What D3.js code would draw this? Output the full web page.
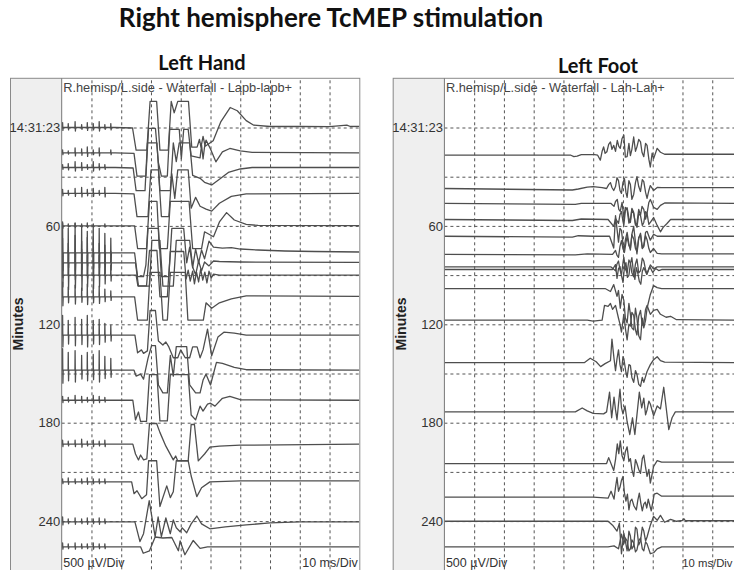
<!DOCTYPE html>
<html>
<head>
<meta charset="utf-8">
<script src="https://cdn.jsdelivr.net/npm/d3@7"></script>
<style>
  html, body { margin: 0; padding: 0; background: #fff; }
  svg { display: block; }
</style>
</head>
<body>
<svg id="chart" width="734" height="570"></svg>
<script>
// ---- data -------------------------------------------------------------
// stimulus train pulse times (ms) shared by every hand sweep
const pulseTimes = [0.3, 2.2, 4.5, 6.7, 8.6, 10.6, 12.6, 14.5, 16.5];

// minute axis
const minuteTicks = [0, 60, 120, 180, 240];
const minuteLabels = ["14:31:23", "60", "120", "180", "240"];
const gridMinutes = [0, 30, 60, 90, 120, 150, 180, 210, 240];
const gridMs = [10, 20, 30, 40, 50, 60, 70, 80, 90];

// Left hand (APB) sweeps: acquisition time in minutes
const handTimes = [0, 15.5, 24.4, 40.2, 60, 76.5, 82.6, 90, 103.3, 126.6, 148, 166.3, 193.1, 216.1, 240.5, 255.7];

// stimulus artefact size (µV) at each pulse, per sweep
const handPulses = [
  [50, 40, 60, 30, 50, 40, 60, 30, 40],
  [30, 20, 50, 40, 60, 30, 50, 0, 30],
  [30, 40, 60, 50, 30, 60, 40, 30, 0],
  [40, 30, 50, 60, 40, 50, 30, 60, 0],
  [40, 20, 30, 20, 30, 20, 0, 20, 0],
  [300, 250, 300, 280, 220, 260, 250, 200, 150],
  [250, 200, 280, 220, 260, 240, 200, 180, 120],
  [200, 250, 220, 260, 200, 230, 200, 150, 100],
  [150, 100, 120, 90, 130, 100, 110, 80, 60],
  [200, 150, 180, 160, 200, 150, 160, 120, 100],
  [220, 180, 200, 150, 180, 160, 200, 140, 120],
  [40, 30, 50, 40, 30, 50, 40, 30, 0],
  [40, 30, 40, 50, 30, 40, 30, 40, 0],
  [30, 40, 30, 30, 40, 30, 30, 30, 0],
  [50, 30, 40, 30, 40, 30, 40, 30, 0],
  [40, 30, 40, 30, 30, 40, 30, 30, 0]
];

// hand responses: [ms, µV]
const handWaves = [
  [[0,0],[18,0],[23.8,-5],[25,-230],[28.6,-230],[29.7,265],[31.9,265],[33,-230],[35.8,-230],[36.8,265],[37.8,150],[39,265],[42.6,265],[43.7,-200],[45.5,-200],[46.3,-120],[46.8,-200],[47.5,-90],[48.2,-190],[50.9,-135],[53.5,60],[56.6,203],[59,170],[62,70],[64.4,25],[70,10],[80,10],[90,8],[95.8,25],[97,10],[100,12]],
  [[0,0],[18,0],[24.3,-5],[25.3,-235],[28.3,-235],[29.2,250],[31.5,250],[32.5,-100],[33.5,-235],[35.5,-235],[36.3,240],[39.5,240],[40.2,-60],[41,240],[42.5,240],[43.5,-30],[46.5,-50],[47,80],[47.5,-60],[48,60],[48.5,130],[50,40],[51.8,-90],[54,10],[56.5,45],[60,20],[64,5],[100,0]],
  [[0,0],[18,0],[24,-5],[25,-235],[28,-235],[28.8,250],[32,250],[33,-235],[36.5,-235],[37.5,250],[38.5,60],[39.5,250],[43,250],[44,-80],[46.5,-110],[48,-150],[50.4,-177],[53,-120],[56,-50],[60,-15],[64,0],[100,0]],
  [[0,0],[18,0],[24.3,-5],[25.3,-235],[29,-235],[30,240],[32.5,240],[33.5,-235],[36,-235],[37,200],[38,-50],[39,240],[42.5,240],[43.5,-150],[45,-40],[46.5,-130],[48.5,-160],[50.4,-180],[53,-100],[57,-30],[62,-5],[100,0]],
  [[0,0],[18,0],[24.5,0],[25.5,-230],[28.5,-230],[29.5,250],[32,250],[32.8,-230],[35.5,-230],[36.5,250],[42.8,250],[44,-230],[47,-230],[48,-60],[51,-110],[53,40],[55.4,135],[58,60],[62,15],[66,5],[100,3]],
  [[0,0],[18,0],[24.5,0],[25.5,-240],[27.5,-240],[28.3,-120],[29,250],[32.5,250],[33.5,-240],[36,-240],[37,250],[41,250],[42,-100],[43,60],[44,-150],[45,40],[46,-100],[47,30],[48,-60],[49.5,120],[51,60],[54,50],[57,55],[60,40],[66,30],[75,20],[85,15],[100,10]],
  [[0,0],[18,0],[24.8,0],[25.8,-235],[29.5,-235],[30.3,230],[33,230],[34,-235],[37.5,-235],[38.5,230],[43,230],[44,-40],[45,-120],[46,20],[47,-80],[48,10],[49.5,-30],[51,20],[53,15],[60,10],[100,5]],
  [[0,0],[18,0],[25,0],[25.6,-110],[28.5,-110],[29.5,250],[32,250],[33,-220],[35.5,-220],[36.5,240],[41,240],[41.8,-40],[42.5,50],[43.2,-60],[44,40],[44.6,-90],[45.3,30],[46,-70],[46.7,60],[47.4,-50],[48.1,30],[48.8,-80],[49.5,40],[50.2,-30],[51,10],[53,0],[100,0]],
  [[0,0],[18,0],[24.5,0],[25.5,-235],[28.8,-235],[29.7,250],[33,250],[34,-235],[35.5,-235],[36.5,250],[41.5,250],[42.4,-235],[47.6,-235],[48.5,-60],[50.4,-115],[53,-60],[57,-20],[62,10],[100,5]],
  [[0,0],[18,0],[24.6,0],[25.5,-180],[26.8,-150],[27.5,-185],[28.8,-160],[29.7,250],[31.5,250],[32.5,-60],[34,-100],[35,-70],[36,-120],[37.5,-230],[39,-230],[40,-150],[41.5,-230],[43,-230],[44,-120],[45.5,-120],[46.5,-230],[47.5,-150],[49,60],[50.4,-210],[52.5,-20],[54.5,30],[58,20],[62,0],[100,0]],
  [[0,0],[18,0],[24.3,0],[25,-60],[26.5,-40],[27.5,-90],[29,120],[30.2,250],[31.5,250],[32.5,-150],[34,-230],[35.5,-230],[36.5,150],[37.5,-60],[38.5,240],[42,240],[43,-150],[45,-230],[46.5,-230],[47.5,-100],[48.5,-40],[50,-150],[52,80],[54,70],[58,30],[62,5],[100,0]],
  [[0,0],[18,0],[23.9,0],[24.8,-200],[25.8,-120],[26.5,-215],[28.5,-215],[29.5,260],[32,260],[33,-210],[35.5,-210],[36.5,260],[42.5,260],[43.5,-150],[45,-200],[46.5,-60],[47.5,-110],[49,-40],[50,-30],[51.5,-60],[54,20],[56.5,40],[60,5],[100,0]],
  [[0,0],[18,0],[23.9,0],[24.8,-100],[25.8,-160],[26.5,-110],[27.5,-160],[28.6,-150],[29.5,210],[31.9,210],[33,120],[35,-20],[37.5,-160],[38.3,-120],[39,-170],[42.5,-170],[43.5,200],[44.6,200],[45.9,-170],[48,-100],[49.8,-30],[53,-20],[60,-10],[100,0]],
  [[0,0],[18,0],[23.5,0],[24.3,-120],[25.3,-90],[26.9,-170],[28.5,-130],[29.2,215],[31.9,215],[33,-250],[35.3,-40],[36.5,-160],[37.5,-100],[38.5,215],[42.5,215],[43.5,60],[45.4,-150],[47,-60],[49.8,0],[55,5],[60,10],[100,10]],
  [[0,0],[18,0],[24.6,0],[26.3,-200],[27.5,-120],[29.4,215],[31.4,-150],[32.4,50],[33.5,-150],[35,40],[36.5,-120],[37.5,20],[38.5,-60],[39.8,-100],[40.5,-60],[42,-110],[43.5,-20],[45.4,60],[47,-20],[49.8,-70],[55,-50],[62,-30],[70,-10],[80,0],[100,0]],
  [[0,0],[18,0],[26.5,0],[27.4,-65],[29.5,-40],[31.4,100],[34,90],[37,95],[39.2,-40],[39.8,60],[41.4,-80],[44.2,65],[46.5,-15],[49,0],[100,0]]
];

// Left foot (AH) sweeps: acquisition time in minutes
const footTimes = [16.9, 37.2, 46.3, 56.1, 66.3, 77.4, 85, 86.6, 98.2, 117.5, 143.4, 173.4, 204.9, 225.4, 240.1, 255.7];

// foot responses: [ms, µV]
const footWaves = [
  [[0,0],[42.5,0],[43.5,-15],[44.6,-10],[46,5],[50.5,5],[51.5,0],[52.4,-50],[53,40],[53.5,85],[54,20],[54.6,35],[55.2,110],[55.8,135],[56.3,60],[56.9,100],[57.5,40],[58.1,150],[58.6,90],[59.1,70],[59.7,170],[60.3,205],[60.8,-20],[61.4,-15],[62,120],[62.5,-5],[63,60],[63.6,185],[64.2,40],[64.7,85],[65.3,160],[65.9,135],[66.4,30],[67,-15],[67.6,120],[68.1,100],[68.7,-40],[69.2,-120],[69.8,20],[70.3,-35],[71.5,70],[72.6,30],[74,10],[100,10]],
  [[0,0],[43,-15],[45,-5],[48,15],[50,20],[53,10],[54.5,0],[55.2,40],[55.8,60],[56.3,10],[56.9,-20],[57.5,20],[58,110],[58.5,80],[59,-20],[59.5,-50],[60,60],[60.5,100],[61,-40],[61.4,-90],[62,80],[62.5,40],[63,-110],[63.6,-60],[64.2,60],[64.7,120],[65.3,20],[65.9,-30],[66.5,90],[67,70],[67.6,-40],[68.1,-100],[68.7,-20],[69.2,30],[70.3,-20],[71.5,10],[73,8],[100,8]],
  [[0,0],[44,-10],[46,0],[56,0],[57,-30],[57.5,20],[58.1,40],[58.6,-60],[59.1,-80],[59.7,10],[60.3,-150],[60.8,-40],[61.4,-60],[62,-200],[62.5,-170],[63,-50],[63.6,-90],[64.2,-220],[64.7,-200],[65.3,-60],[65.9,-120],[66.4,-30],[67,-60],[67.6,-160],[68.1,-100],[68.7,10],[69.2,40],[70.3,-40],[71.5,-60],[72.6,-20],[74,5],[100,0]],
  [[0,0],[43,-10],[46,5],[55,0],[56.9,-70],[57.5,10],[58.5,-40],[59,50],[59.5,80],[60,-20],[60.3,-60],[60.8,90],[61.4,120],[62,10],[62.5,-30],[63,100],[63.6,60],[64.2,-40],[64.7,-80],[65.3,60],[65.9,40],[66.5,-60],[67,-30],[67.6,80],[68.1,60],[68.7,-50],[69.2,-30],[70.3,20],[71.5,-60],[72.6,-125],[73.5,-80],[74.8,-40],[76,0],[100,0]],
  [[0,0],[43,-10],[45,5],[50,0],[55.5,0],[56.9,-120],[57.5,210],[58.5,-60],[59,80],[59.5,60],[60.3,-160],[60.8,-40],[61.4,40],[62,-80],[62.5,-140],[63,20],[63.6,100],[64.2,-60],[64.7,-180],[65.3,-20],[65.9,30],[66.5,-120],[67,-90],[67.6,40],[68.1,50],[69.2,-40],[70.3,20],[71.5,0],[100,0]],
  [[0,0],[44,-5],[48,5],[56.5,0],[57.5,40],[58,-10],[58.5,-30],[59,80],[59.5,140],[60,60],[60.5,20],[61,120],[61.4,180],[62,90],[62.5,60],[63,200],[63.6,160],[64.2,60],[64.7,30],[65.3,170],[65.9,200],[66.5,60],[67,80],[67.6,190],[68.1,150],[68.7,60],[69.2,20],[70.3,60],[71.5,10],[73,5],[100,5]],
  [[0,0],[56,0],[57.5,-40],[58,30],[58.5,60],[59,-30],[59.5,-80],[60,40],[60.3,100],[60.8,-20],[61.4,-60],[62,70],[62.5,40],[63,-60],[63.6,-100],[64.2,30],[64.7,80],[65.3,-60],[65.9,-40],[66.5,90],[67,60],[67.6,-30],[68.1,-70],[69.2,20],[70.3,-20],[71.5,0],[100,0]],
  [[0,0],[56.5,0],[57.5,50],[58,-90],[58.5,10],[59,30],[59.5,-60],[60,-130],[60.5,20],[61,70],[61.5,-80],[62,-60],[62.5,60],[63,120],[63.5,-20],[64,-100],[64.5,20],[65,-40],[65.5,-120],[66,-150],[66.5,-20],[67,20],[68,-50],[69,30],[70,-30],[71,10],[72,-10],[73,0],[100,0]],
  [[0,0],[54,0],[55.8,-30],[56.9,40],[58,-80],[58.5,-20],[59.1,-200],[59.7,-60],[60.3,-120],[60.8,-300],[61.4,-350],[62,-150],[62.5,-260],[63,-400],[63.6,-420],[64.2,-200],[64.7,-300],[65.3,-480],[65.9,-520],[66.5,-300],[67,-400],[67.6,-320],[68.1,-200],[69.2,-60],[70.3,30],[71.5,10],[73,0],[100,0]],
  [[0,0],[48,0],[50,-10],[53,0],[53.8,150],[55,140],[55.8,170],[56.5,110],[57.5,150],[58.5,20],[59,-40],[59.5,-120],[60.3,60],[60.8,-80],[61.4,-200],[62,-40],[62.5,-60],[63,80],[63.6,50],[64.2,-100],[64.7,-150],[65.3,40],[65.9,100],[66.5,-50],[67,-30],[67.6,110],[68.1,150],[69.2,60],[70.3,100],[71.5,110],[72.6,60],[74.5,30],[76,40],[78,5],[100,0]],
  [[0,0],[47,0],[49,45],[51,10],[52.5,-40],[54,-10],[55.8,20],[56.3,240],[57,40],[57.5,-80],[58,40],[58.5,130],[59,-20],[59.5,-90],[60,60],[60.3,40],[61,-100],[61.4,-150],[62,-20],[62.5,-30],[63,-150],[63.6,-200],[64.2,-80],[64.7,-120],[65.3,-220],[65.9,-240],[66.5,-150],[67,-200],[68.1,-90],[69.2,-20],[70.3,30],[71.5,60],[72.6,20],[74,5],[100,0]],
  [[0,0],[44,0],[46.3,40],[48,10],[50,-15],[53.5,-20],[54.5,0],[55.5,200],[56.2,-60],[57,150],[57.5,20],[58,-80],[58.5,80],[59,230],[59.5,40],[60,-20],[60.7,60],[61.4,-100],[62.3,-230],[63.2,-60],[64,-230],[64.7,-30],[65.5,200],[66.3,40],[67,140],[67.6,-30],[68.1,20],[68.7,110],[69.2,80],[70.3,-40],[71.5,60],[72.6,30],[73.7,250],[75.4,-180],[76.5,-60],[77.6,0],[100,0]],
  [[0,0],[50,0],[54.5,0],[55.2,60],[56.9,-70],[57.5,40],[58.1,200],[58.6,100],[59.1,230],[59.7,80],[60.3,30],[60.8,120],[61.4,170],[62,20],[62.5,50],[63,-60],[63.6,-130],[64.2,40],[64.7,0],[65.3,-60],[65.9,-100],[66.5,50],[67,85],[67.6,-40],[68.1,-130],[68.7,-60],[69.2,-200],[70.3,-30],[71.5,30],[73,15],[100,15]],
  [[0,0],[50,0],[55,-10],[56,60],[57,-20],[57.5,100],[58,200],[58.5,60],[59,100],[59.5,170],[60,210],[60.5,40],[61,-40],[61.5,30],[62,-130],[62.5,-40],[63,-20],[63.7,-90],[64.5,-130],[65,-30],[65.5,40],[66,-60],[66.5,-140],[67,-70],[67.5,-50],[68,-110],[68.5,-20],[69.5,-140],[70.5,30],[71.5,40],[73,10],[100,10]],
  [[0,0],[52,0],[55,0],[56.5,-40],[58,-100],[58.8,-20],[59.5,-330],[60.3,-120],[60.8,-200],[61.4,-300],[62,-100],[62.5,-150],[63,-280],[63.6,-250],[64.2,-60],[64.7,-80],[65.3,-240],[65.9,-200],[66.5,-60],[67,-100],[67.6,-200],[68.1,-160],[69.2,-40],[70.3,50],[71.5,10],[72.6,60],[74,-10],[76,20],[78,0],[80,10],[80.5,25],[81,5],[100,5]],
  [[0,0],[55,0],[57,10],[58.5,-20],[59.5,130],[60.3,30],[60.8,90],[61.4,60],[62,-40],[62.5,-20],[63,70],[63.6,40],[64.2,-50],[64.7,-30],[65.3,60],[65.9,90],[66.5,-20],[67,-40],[67.6,50],[68.1,30],[69.2,-70],[70.3,-60],[71.5,-20],[73,0],[100,0]]
];

// ---- drawing ----------------------------------------------------------
const W = 734;
const svg = d3.select("#chart");
const labelFont = "'Liberation Sans', Arial, sans-serif";
const titleFont = "Lato, 'Open Sans', sans-serif";

const plotTop = 78.3, plotBottom = 570.3;
const stripW = 51.7, plotW = 297.6;

svg.append("text")
  .attr("x", 331).attr("y", 27)
  .attr("text-anchor", "middle")
  .style("font-family", titleFont).style("font-weight", 700)
  .style("font-size", "26px").style("fill", "#111")
  .text("Right hemisphere TcMEP stimulation");

const panels = [
  { id: "hand", x0: 10, title: "Left Hand", titleX: 202, titleY: 70,
    caption: "R.hemisp/L.side - Waterfall - Lapb-lapb+",
    times: handTimes, waves: handWaves, pulses: handPulses },
  { id: "foot", x0: 392.7, title: "Left Foot", titleX: 598, titleY: 73,
    caption: "R.hemisp/L.side - Waterfall - Lah-Lah+",
    times: footTimes, waves: footWaves, pulses: null }
];

function withPulses(wave, amps) {
  const pts = wave.slice();
  if (amps) {
    amps.forEach((a, i) => {
      if (a > 0) {
        const p = pulseTimes[i];
        pts.push([p - 0.05, 0], [p, a], [p + 0.1, -0.6 * a], [p + 0.2, 0]);
      }
    });
  }
  return pts.sort((a, b) => a[0] - b[0]);
}

panels.forEach(pn => {
  const left = pn.x0 + stripW, right = left + plotW;
  const x = d3.scaleLinear().domain([0, 100]).range([left, right]);
  const y = d3.scaleLinear().domain([-30, 270]).range([plotTop, plotBottom]);
  // 500 µV per division (one division = 30 min of waterfall spacing)
  const amp = d3.scaleLinear().domain([0, 500]).range([0, y(30) - y(0)]);

  const g = svg.append("g");

  g.append("text")
    .attr("x", pn.titleX).attr("y", pn.titleY)
    .attr("text-anchor", "middle")
    .style("font-family", titleFont).style("font-weight", 700)
    .style("font-size", "20px").style("fill", "#111")
    .text(pn.title);

  // label strip + plot background
  g.append("rect").attr("x", pn.x0).attr("y", plotTop)
    .attr("width", stripW).attr("height", plotBottom - plotTop + 5)
    .attr("fill", "#efefef");
  g.append("rect").attr("x", left).attr("y", plotTop)
    .attr("width", plotW).attr("height", plotBottom - plotTop + 5)
    .attr("fill", "#fff");

  const clipId = "clip-" + pn.id;
  g.append("clipPath").attr("id", clipId)
    .append("rect").attr("x", left).attr("y", plotTop)
    .attr("width", plotW).attr("height", plotBottom - plotTop + 5);

  const plot = g.append("g").attr("clip-path", `url(#${clipId})`);

  // dotted division grid
  const gx = plot.append("g")
    .attr("transform", `translate(0,${plotBottom + 5})`)
    .call(d3.axisBottom(x).tickValues(gridMs).tickSize(-(plotBottom + 5 - plotTop)).tickFormat(""));
  const gy = plot.append("g")
    .attr("transform", `translate(${left},0)`)
    .call(d3.axisLeft(y).tickValues(gridMinutes).tickSize(-plotW).tickFormat(""));
  [gx, gy].forEach(a => {
    a.select(".domain").remove();
    a.selectAll(".tick line")
      .attr("stroke", "#555").attr("stroke-width", 1)
      .attr("stroke-dasharray", "3,3");
  });

  // sweeps
  pn.waves.forEach((w, i) => {
    const base = y(pn.times[i]);
    const pts = withPulses(w, pn.pulses ? pn.pulses[i] : null);
    const line = d3.line()
      .x(d => x(d[0]))
      .y(d => base - amp(d[1]));
    plot.append("path")
      .attr("d", line(pts))
      .attr("fill", "none")
      .attr("stroke", "#4e4e4e")
      .attr("stroke-width", 1.3)
      .attr("stroke-linejoin", "round");
  });

  // frame
  g.append("rect").attr("x", pn.x0 + 0.5).attr("y", plotTop)
    .attr("width", stripW + plotW).attr("height", plotBottom - plotTop + 5)
    .attr("fill", "none").attr("stroke", "#8a8a8a").attr("stroke-width", 1);
  g.append("line").attr("x1", left).attr("x2", left)
    .attr("y1", plotTop).attr("y2", plotBottom + 5)
    .attr("stroke", "#777").attr("stroke-width", 1);

  // minute labels
  const ay = g.append("g")
    .attr("transform", `translate(${left},0)`)
    .call(d3.axisLeft(y).tickValues(minuteTicks).tickSize(0).tickPadding(1.5)
      .tickFormat((d, i) => minuteLabels[i]));
  ay.select(".domain").remove();
  ay.selectAll("text")
    .style("font-family", labelFont).style("font-size", "13px").attr("fill", "#333");

  g.append("text")
    .attr("transform", `translate(${pn.x0 + 13},${324}) rotate(-90)`)
    .attr("text-anchor", "middle")
    .style("font-family", labelFont).style("font-weight", 700)
    .style("font-size", "14px").style("fill", "#222")
    .text("Minutes");

  g.append("text")
    .attr("x", left + 1.5).attr("y", 91.5)
    .style("font-family", labelFont).style("font-size", "12.8px").style("fill", "#444")
    .text(pn.caption);

  g.append("text")
    .attr("x", left + 1.5).attr("y", 567)
    .style("font-family", labelFont).style("font-size", "12.5px").style("fill", "#333")
    .text("500 µV/Div");

  // division note kept inside the page width
  const fits = right - 1.5 <= W - 1;
  g.append("text")
    .attr("x", fits ? right - 1.5 : W - 1.5).attr("y", 567)
    .attr("text-anchor", "end")
    .style("font-family", labelFont).style("font-size", fits ? "12.5px" : "11.3px").style("fill", "#333")
    .text("10 ms/Div");
});
</script>
</body>
</html>
